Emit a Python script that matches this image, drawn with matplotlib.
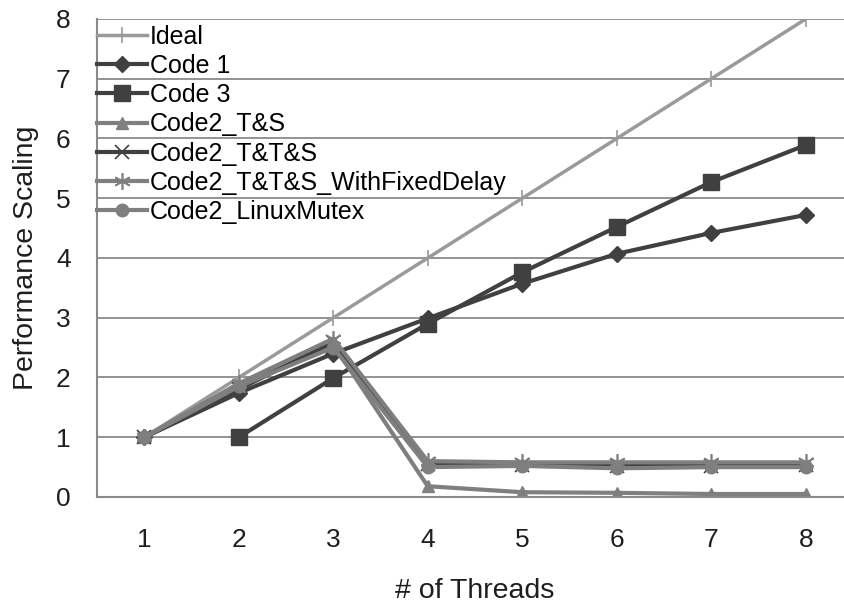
import numpy as np
import matplotlib
matplotlib.use("Agg")
import matplotlib.pyplot as plt

plt.rcParams["font.family"] = ["Liberation Sans", "DejaVu Sans"]

threads = [1, 2, 3, 4, 5, 6, 7, 8]

ideal = [1, 2, 3, 4, 5, 6, 7, 8]
code1 = [1.0, 1.74, 2.40, 2.99, 3.57, 4.07, 4.42, 4.72]
code3 = [np.nan, 1.0, 1.99, 2.90, 3.76, 4.52, 5.27, 5.89]
code2_ts = [1.0, 1.85, 2.55, 0.18, 0.08, 0.07, 0.05, 0.05]
code2_tts = [1.0, 1.80, 2.60, 0.55, 0.53, 0.52, 0.52, 0.53]
code2_tts_delay = [1.0, 1.90, 2.65, 0.60, 0.58, 0.58, 0.58, 0.58]
code2_mutex = [1.0, 1.85, 2.50, 0.50, 0.52, 0.48, 0.50, 0.50]

DARK = "#404040"
MID = "#7f7f7f"
LIGHT = "#9a9a9a"
TEXT = "#1e1e1e"

fig = plt.figure(figsize=(8.45, 6.03), dpi=100)
ax = fig.add_axes([0.1148, 0.1758, 0.8947, 0.7927])

ax.plot(threads, ideal, color=LIGHT, lw=2.5, marker="|", ms=12, mew=1.2, label="Ideal")
ax.plot(threads, code1, color=DARK, lw=3, marker="D", ms=8, label="Code 1")
ax.plot(threads, code3, color=DARK, lw=3, marker="s", ms=11, label="Code 3")
ax.plot(threads, code2_ts, color=MID, lw=3, marker="^", ms=9, label="Code2_T&S")
ax.plot(threads, code2_tts, color=DARK, lw=3, marker="x", ms=10, mew=1.2, label="Code2_T&T&S")
ax.plot(threads, code2_tts_delay, color=MID, lw=3, marker=(6, 2, 0), ms=12, mew=1.2,
        label="Code2_T&T&S_WithFixedDelay")
ax.plot(threads, code2_mutex, color=MID, lw=3, marker="o", ms=9, label="Code2_LinuxMutex")

ax.set_xlim(0.5, 8.5)
ax.set_ylim(0, 8)
ax.set_xticks(threads)
ax.set_yticks(range(0, 9))
ax.tick_params(axis="both", length=0, labelsize=19, colors=TEXT)
ax.tick_params(axis="x", pad=22)
ax.tick_params(axis="y", pad=19)
ax.grid(axis="y", color="#8a8a8a", lw=1.3)
ax.set_axisbelow(True)
for s in ("top", "right"):
    ax.spines[s].set_visible(False)
for s in ("left", "bottom"):
    ax.spines[s].set_color("#8a8a8a")
    ax.spines[s].set_linewidth(1.5)

ax.set_xlabel("# of Threads", fontsize=20.5, color=TEXT, labelpad=19)
ax.set_ylabel("Performance Scaling", fontsize=20.5, color=TEXT, labelpad=12)

ax.legend(loc="upper left", bbox_to_anchor=(0.0, 0.988), frameon=False, fontsize=18,
          handlelength=2.0, handletextpad=0.12, labelspacing=0.21, borderaxespad=0,
          borderpad=0)

fig.savefig("out.png", dpi=100, facecolor="white")
